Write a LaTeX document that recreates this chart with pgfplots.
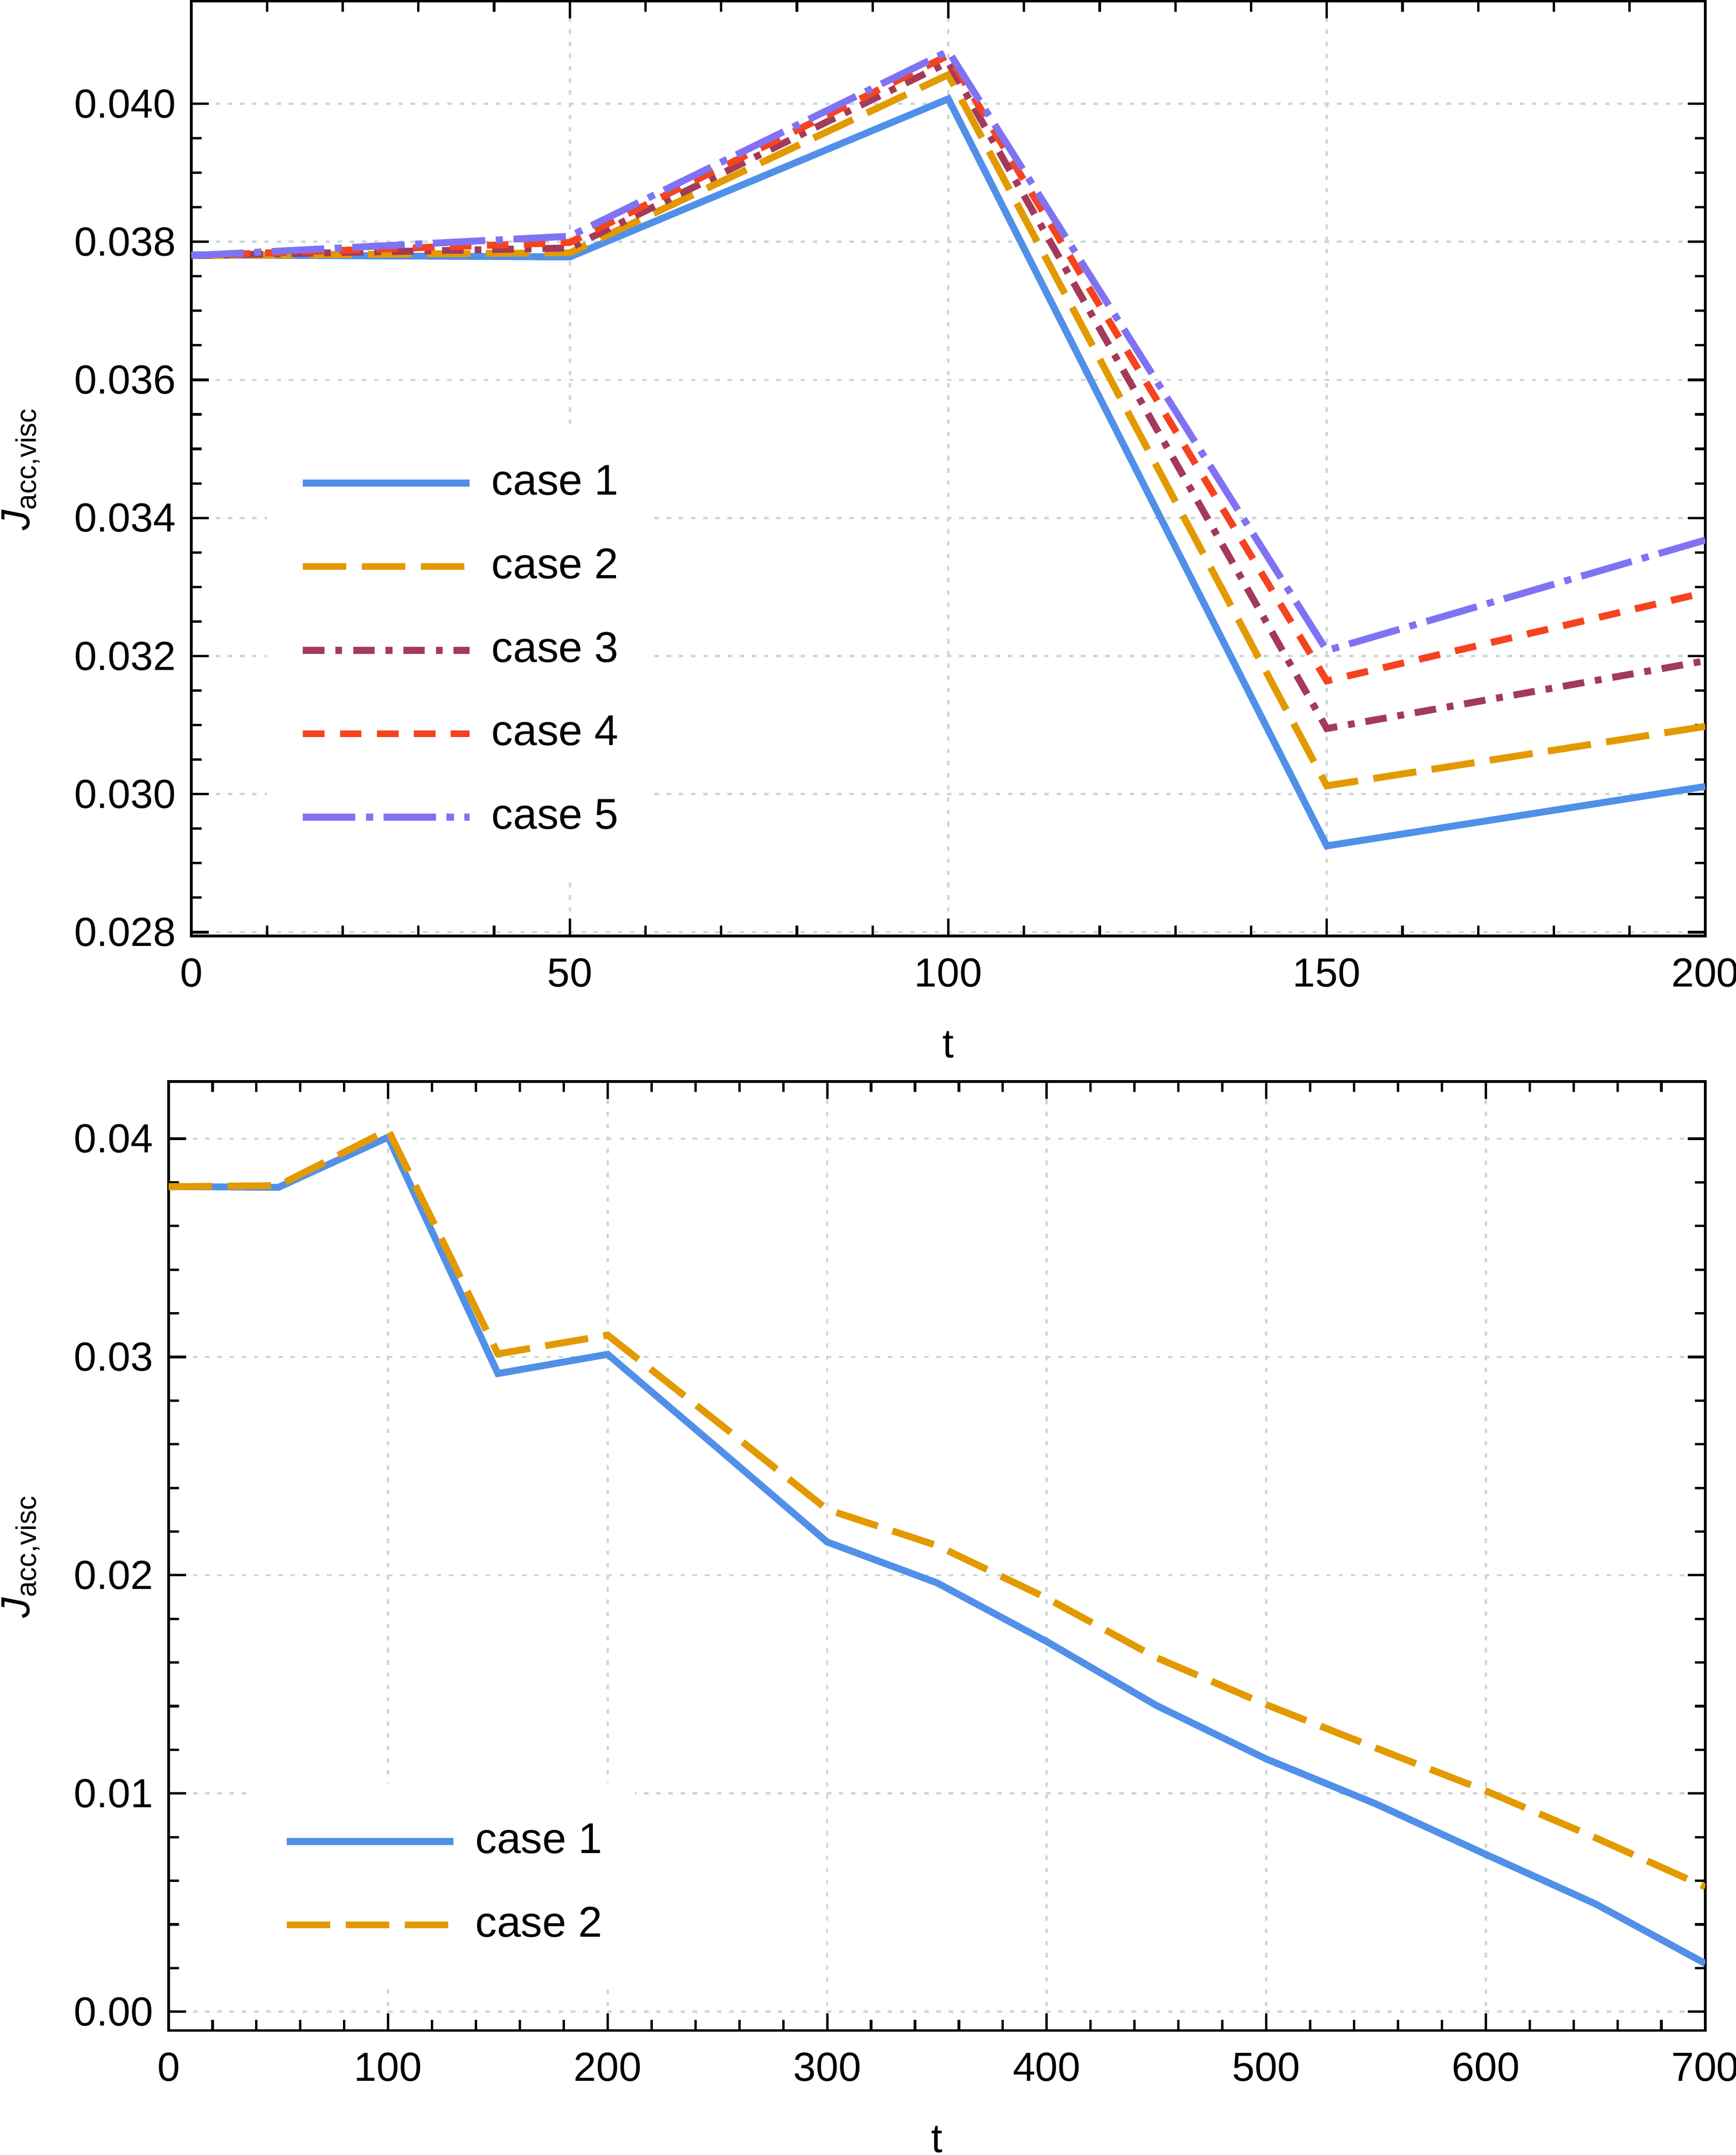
\documentclass[border=0pt]{standalone}
\usepackage{fontspec}
\setmainfont{Liberation Sans}
\usepackage{pgfplots}
\pgfplotsset{compat=1.18}
\definecolor{c1}{HTML}{5190E8}
\definecolor{c2}{HTML}{E29A00}
\definecolor{c3}{HTML}{A43A5A}
\definecolor{c4}{HTML}{F6431F}
\definecolor{c5}{HTML}{7F73F3}
\definecolor{gridc}{HTML}{CCD6D6}
\pgfplotsset{
  myaxis/.style={
    scale only axis,
    anchor=south west,
    axis line style={line width=0.67pt, black},
    tick align=inside,
    major tick length=4.3pt,
    minor tick length=2.6pt,
    every tick/.append style={black, line width=0.6pt},
    grid=major,
    major grid style={color=gridc, line width=0.55pt, dash pattern=on 1.1pt off 1.9pt},
    tick label style={font=\fontsize{10}{12}\selectfont},
    /pgf/number format/assume math mode=true,
    xticklabel style={inner sep=0pt, yshift=-5.3pt},
    yticklabel style={inner sep=0pt, xshift=-3.6pt},
    scaled ticks=false,
    xlabel={t},
    xlabel style={at={(axis description cs:0.5,0)}, anchor=base, yshift=-30.0pt, inner sep=0pt, font=\fontsize{10}{12}\selectfont},
    ylabel={\textit{J}\textsubscript{acc,visc}},
    legend cell align=left,
    legend image code/.code={\draw[##1] (0pt,0pt) -- (41pt,0pt);},
    legend style={fill=white, draw=none, anchor=north west, inner xsep=8pt, inner ysep=10pt,
      row sep=11.7pt, column sep=4.6pt, font=\fontsize{10.6}{12.7}\selectfont, nodes={inner sep=0pt, anchor=west}},
  },
  s1/.style={c1, line width=1.7pt, solid},
  s2/.style={c2, line width=1.7pt, dash pattern=on 10.7pt off 3.8pt},
  s3/.style={c3, line width=1.7pt, dash pattern=on 5.3pt off 2.7pt on 1.65pt off 2.7pt},
  s4/.style={c4, line width=1.7pt, dash pattern=on 5.3pt off 3.8pt},
  s5/.style={c5, line width=1.7pt, dash pattern=on 12.9pt off 2.6pt on 1.75pt off 2.6pt},
}
\begin{document}
\begin{tikzpicture}
\begin{axis}[myaxis,
  at={(47.09pt,300.0pt)},
  width=372.67pt, height=230.06pt,
  xmin=0, xmax=200, ymin=0.027945, ymax=0.041485,
  xtick={0,50,100,150,200}, minor x tick num=4,
  ytick={0.028,0.030,0.032,0.034,0.036,0.038,0.040}, minor y tick num=3,
  yticklabel style={/pgf/number format/.cd, fixed, fixed zerofill, precision=3},
  ylabel style={at={(axis description cs:-0.1258,0.5)}, anchor=north, inner sep=0pt, font=\fontsize{10}{12}\selectfont},
  legend style={at={(axis description cs:0.0495,0.5479)}},
]
\addplot[s1] coordinates {(0,0.03781) (50,0.03778) (100,0.04007) (150,0.02925) (200,0.03011)};
\addlegendentry{case 1}
\addplot[s2] coordinates {(0,0.0378) (50,0.03784) (100,0.04042) (150,0.03012) (200,0.03098)};
\addlegendentry{case 2}
\addplot[s3] coordinates {(0,0.0378) (50,0.03791) (100,0.0406) (150,0.03095) (200,0.03193)};
\addlegendentry{case 3}
\addplot[s4] coordinates {(0,0.0378) (50,0.03799) (100,0.0407) (150,0.03164) (200,0.03292)};
\addlegendentry{case 4}
\addplot[s5] coordinates {(0,0.0378) (50,0.03808) (100,0.04076) (150,0.03208) (200,0.03368)};
\addlegendentry{case 5}
\end{axis}
\begin{axis}[myaxis,
  at={(41.51pt,30.63pt)},
  width=378.26pt, height=233.56pt,
  xmin=0, xmax=700, ymin=-0.000862, ymax=0.04262,
  xtick={0,100,200,300,400,500,600,700}, minor x tick num=4,
  ytick={0,0.01,0.02,0.03,0.04}, minor y tick num=4,
  yticklabel style={/pgf/number format/.cd, fixed, fixed zerofill, precision=2},
  ylabel style={at={(axis description cs:-0.1092,0.5)}, anchor=north, inner sep=0pt, font=\fontsize{10}{12}\selectfont},
  legend style={at={(axis description cs:0.0530,0.2617)}},
]
\addplot[s1] coordinates {(0,0.03781) (50,0.03777) (100,0.04007) (150,0.02924) (200,0.03012) (250,0.02583) (300,0.02152) (350,0.01965) (400,0.01696) (450,0.01403) (500,0.01158) (550,0.00952) (600,0.00721) (650,0.00494) (700,0.00221)};
\addlegendentry{case 1}
\addplot[s2] coordinates {(0,0.0378) (50,0.03785) (100,0.04040) (150,0.03014) (200,0.03100) (250,0.02702) (300,0.02301) (350,0.02136) (400,0.01895) (450,0.01622) (500,0.01407) (550,0.01208) (600,0.01012) (650,0.00797) (700,0.00572)};
\addlegendentry{case 2}
\end{axis}
\pgfresetboundingbox
\useasboundingbox (0,0) rectangle (427.33pt,530.35pt);
\end{tikzpicture}
\end{document}
